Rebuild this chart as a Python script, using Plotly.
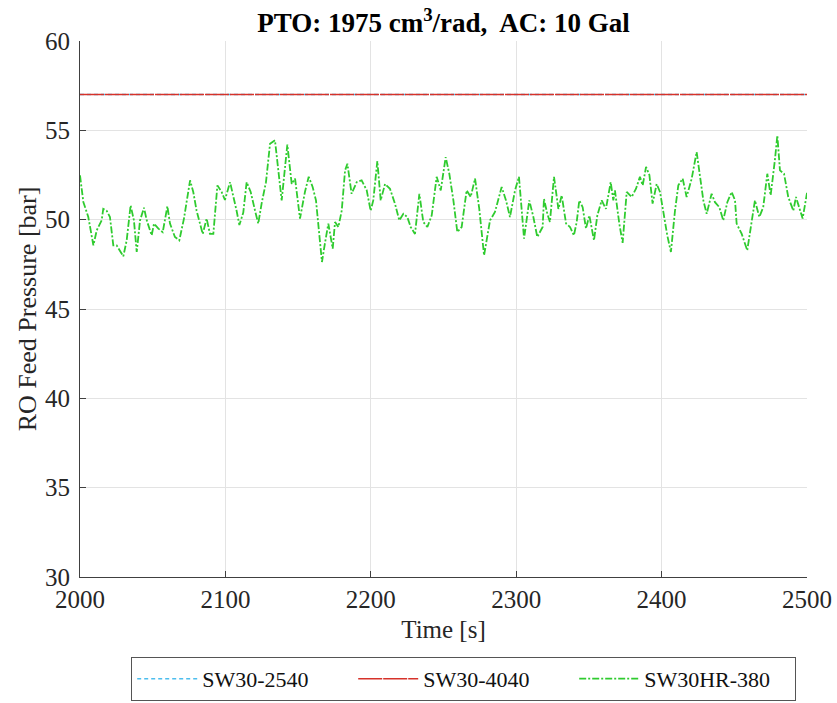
import plotly.graph_objects as go

# ---- data ----
time_flat = [2000, 2500]
sw30_2540 = [57.0, 57.0]
sw30_4040 = [57.0, 57.0]

time_hr = [2000, 2002.3, 2005.7, 2009.2, 2011.5, 2014.9, 2016, 2018.3, 2020.6, 2022.9,
           2025.2, 2027.5, 2029.8, 2032.1, 2034.8, 2037.1, 2039, 2041.3, 2044, 2045.9,
           2049.3, 2050.9, 2053.9, 2056.9, 2060.1, 2061.9, 2065.3, 2068.3, 2071.5, 2075.7,
           2077.9, 2080.2, 2084.4, 2087.1, 2089.4, 2091.7, 2094.5, 2097.4, 2099.7, 2103.2,
           2105.5, 2107.7, 2109.6, 2112.3, 2114.6, 2117.4, 2120.4, 2122.6, 2124.9, 2127.9,
           2130.7, 2134.1, 2138.7, 2142.6, 2145.6, 2147.9, 2151.3, 2154.7, 2157.3, 2160,
           2162.3, 2166.4, 2168.5, 2170.8, 2173.8, 2175.4, 2177.7, 2180, 2182.3, 2183.9,
           2186.8, 2190.3, 2193.7, 2197.2, 2199.9, 2201.7, 2204.5, 2206.8, 2209.8, 2213.2,
           2216.6, 2219.6, 2222.4, 2225.1, 2227.4, 2230.4, 2233.4, 2236.1, 2238.9, 2241.9,
           2245.3, 2248.1, 2251.5, 2254, 2256.8, 2259.5, 2262.5, 2265.9, 2268.7, 2271.7,
           2274.6, 2277.9, 2282, 2285.4, 2290, 2293, 2295.7, 2299.2, 2301.9, 2303.8,
           2305.4, 2309, 2311.8, 2314.5, 2318.2, 2319.1, 2321.4, 2323.2, 2326, 2329,
           2331.3, 2334.3, 2337, 2339.7, 2341.6, 2343.4, 2345.7, 2348, 2350.3, 2353.5,
           2355.8, 2358.8, 2361.7, 2365, 2366.8, 2367.9, 2370.9, 2373.2, 2376, 2379.4,
           2382.4, 2385.1, 2387, 2389.3, 2391.6, 2393.8, 2396.6, 2398.9, 2402.3, 2403.9,
           2406.4, 2409.2, 2411.5, 2414.5, 2417.2, 2420.7, 2424.1, 2426.4, 2428.7, 2431,
           2434.4, 2436.7, 2439.7, 2442.4, 2445.2, 2448.2, 2450.5, 2451.6, 2455.1, 2458.9,
           2461.9, 2464.2, 2467.2, 2469.9, 2472.7, 2475, 2477.9, 2479.6, 2481.4, 2484.2,
           2487.1, 2490.6, 2492.4, 2495.2, 2497, 2500]
sw30hr_380 = [52.48, 50.99, 50.15, 48.56, 49.4, 49.96, 50.6, 50.5, 50.15, 48.56,
              48.56, 48.28, 47.95, 48.84, 50.8, 49.96, 48.19, 49.96, 50.67, 49.96,
              49.12, 49.78, 49.5, 49.3, 50.75, 49.78, 49.03, 48.84, 50.06, 52.2,
              51.55, 50.5, 49.2, 50.06, 49.2, 49.2, 51.92, 51.55, 51.1, 52.1,
              51.36, 50.5, 49.7, 50.4, 52.1, 51.55, 50.5, 49.78, 50.9, 52.1,
              54.25, 54.44, 51.08, 54.2, 52.0, 52.3, 50.06, 51.55, 52.4, 51.83,
              51.08, 47.63, 48.7, 49.78, 48.38, 49.87, 49.59, 50.5, 52.76, 53.13,
              51.45, 52.1, 52.2, 51.64, 50.5, 51.08, 53.28, 51.08, 52.0, 51.73,
              50.9, 49.96, 50.33, 50.15, 49.59, 49.2, 51.45, 49.87, 49.59, 50.24,
              52.4, 51.64, 53.5, 52.57, 51.08, 49.31, 49.59, 51.64, 51.27, 52.3,
              50.6, 48.0, 49.96, 50.43, 51.83, 51.08, 50.15, 51.64, 52.4, 50.5,
              48.94, 51.08, 50.15, 49.03, 49.59, 51.17, 50.33, 49.87, 52.4, 50.6,
              51.36, 49.78, 49.59, 49.12, 49.87, 51.08, 50.7, 49.5, 50.24, 48.84,
              50.24, 51.08, 50.6, 52.1, 51.08, 51.64, 49.78, 48.7, 51.55, 51.27,
              51.73, 52.4, 51.92, 52.95, 52.5, 50.9, 52.0, 51.55, 49.78, 49.12,
              48.19, 50.5, 51.92, 52.3, 51.27, 52.3, 53.79, 52.4, 51.08, 50.33,
              51.45, 50.98, 50.7, 49.96, 50.98, 51.55, 51.08, 49.78, 49.2, 48.28,
              49.96, 51.08, 50.15, 50.7, 52.57, 51.36, 53.32, 54.72, 52.76, 52.57,
              51.27, 50.5, 51.27, 50.5, 50.06, 51.5]

x_ticks = [2000, 2100, 2200, 2300, 2400, 2500]
y_ticks = [30, 35, 40, 45, 50, 55, 60]

FONT = "Liberation Serif"
AXC = "#404040"

fig = go.Figure()
fig.add_trace(go.Scatter(x=time_flat, y=sw30_2540, mode="lines", name="SW30-2540",
                         line=dict(color="#4DBEEE", width=1.5, dash="4px,3px")))
fig.add_trace(go.Scatter(x=time_flat, y=sw30_4040, mode="lines", name="SW30-4040",
                         line=dict(color="#D6322A", width=1.5, dash="24px,1px")))
fig.add_trace(go.Scatter(x=time_hr, y=sw30hr_380, mode="lines", name="SW30HR-380",
                         line=dict(color="#2FCB2F", width=1.8, dash="7px,2px,2px,2px")))

fig.update_layout(
    width=837, height=703,
    margin=dict(l=80, r=30, t=41, b=126, autoexpand=False),
    paper_bgcolor="white", plot_bgcolor="white",
    font=dict(family=FONT, color="#262626", size=24),
    title=dict(text="<b>PTO: 1975 cm<sup>3</sup>/rad,  AC: 10 Gal</b>",
               x=0.5, xref="paper", xanchor="center", y=0.968, yanchor="middle",
               font=dict(family=FONT, size=27, color="black")),
    showlegend=True,
    legend=dict(orientation="h", x=0.554, xanchor="center", xref="container",
                y=0.003, yref="container", yanchor="bottom",
                bgcolor="white", bordercolor="#555555", borderwidth=1,
                font=dict(family=FONT, size=22, color="#111111"),
                entrywidth=146, entrywidthmode="pixels", itemwidth=60),
)
fig.update_xaxes(range=[2000, 2500], tickvals=x_ticks, ticks="inside", ticklen=6,
                 tickcolor=AXC, showline=True, linecolor=AXC, linewidth=1,
                 showgrid=True, gridcolor="#e3e3e3", gridwidth=1, zeroline=False,
                 automargin=False,
                 tickfont=dict(family=FONT, size=25),
                 title=dict(text="Time [s]", font=dict(family=FONT, size=25), standoff=8))
fig.update_yaxes(range=[30, 60], tickvals=y_ticks, ticks="inside", ticklen=6,
                 tickcolor=AXC, showline=True, linecolor=AXC, linewidth=1,
                 showgrid=True, gridcolor="#e3e3e3", gridwidth=1, zeroline=False,
                 automargin=False,
                 tickfont=dict(family=FONT, size=25), ticklabelstandoff=4,
                 title=dict(text="RO Feed Pressure [bar]", font=dict(family=FONT, size=26), standoff=0))

fig.write_html("out.html")
